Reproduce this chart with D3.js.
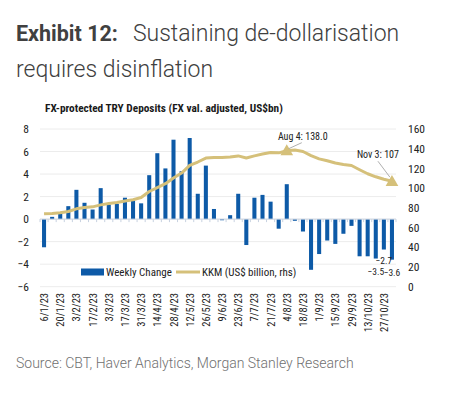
<!DOCTYPE html>
<html>
<head>
<meta charset="utf-8">
<script src="https://cdn.jsdelivr.net/npm/d3@7"></script>
<style>
  body { margin: 0; background: #fff; }
  svg text { font-family: "Roboto Condensed", "Liberation Sans Narrow", "Arial Narrow", "DejaVu Sans Condensed", Roboto, sans-serif; }
  .title { font-family: Roboto, sans-serif !important; fill: #404040; }
  .source { font-family: Roboto, sans-serif !important; fill: #707070; font-weight: 300; }
</style>
</head>
<body>
<div id="chart"></div>
<script>
// weekly dates, Fri 6 Jan 2023 .. Fri 3 Nov 2023
const weeks = d3.timeFriday.range(new Date(2023, 0, 6), new Date(2023, 10, 4));

// weekly change in FX-protected deposits (US$bn)
const weeklyChange = [
  -2.5, 0.2, 0.6, 1.15, 2.6, 1.45, 0.85, 2.75, 1.3, 1.35,
  1.9, 1.65, 1.4, 3.9, 5.85, 4.5, 7.05, 4.25, 7.2, 2.25,
  4.75, 0.9, -0.1, 0.35, 2.25, -2.3, 1.9, 2.15, 1.55, -0.85,
  3.1, -0.15, -1.1, -4.5, -3.1, -1.9, -2.2, -1.3, -0.6, -3.3,
  -3.3, -3.5, -2.7, -3.6
];

// KKM stock (US$ billion, rhs)
const kkm = [
  74.0, 74.3, 75.0, 76.3, 79.0, 80.4, 81.0, 83.0, 84.4, 85.4,
  86.9, 88.2, 90.5, 96.6, 100.5, 104.5, 110.2, 115.3, 123.0, 126.5,
  130.5, 131.2, 131.2, 131.5, 132.7, 130.6, 132.7, 134.6, 136.2, 135.8,
  138.0, 138.7, 137.2, 133.0, 129.7, 127.8, 125.5, 124.0, 123.0, 118.7,
  114.6, 111.5, 109.0, 107.0
];

const leftTicks = [-6, -4, -2, 0, 2, 4, 6, 8];
const rightTicks = [0, 20, 40, 60, 80, 100, 120, 140, 160];
const labelledBars = [41, 42, 43];
const callouts = [
  { i: 30, text: "Aug 4: 138.0" },
  { i: 43, text: "Nov 3: 107" }
];

const W = 472, H = 395;
const plot = { left: 40, right: 396, top: 129, bottom: 286.7 };
const blue = "#0d5aa7", gold = "#d5c07a";

const svg = d3.select("#chart").append("svg")
  .attr("width", W).attr("height", H);

// headline
const head = svg.append("text").attr("class", "title")
  .attr("x", 16).attr("y", 41);
head.append("tspan").attr("font-weight", 700).style("font-size", "21.5px").text("Exhibit 12:");
head.append("tspan").attr("font-weight", 300).style("font-size", "23px").attr("dx", 15).text("Sustaining de-dollarisation");
svg.append("text").attr("class", "title")
  .attr("x", 16).attr("y", 77).style("font-size", "23px").attr("font-weight", 300)
  .text("requires disinflation");

svg.append("text")
  .attr("x", 45).attr("y", 112)
  .attr("font-weight", 700).style("font-size", "11.3px").attr("fill", "#1a1a1a")
  .text("FX-protected TRY Deposits (FX val. adjusted, US$bn)");

const x = d3.scaleBand().domain(d3.range(weeks.length))
  .range([plot.left, plot.right]).paddingInner(0.5).paddingOuter(0.25);
const yL = d3.scaleLinear().domain([-6, 8]).range([plot.bottom, plot.top]);
const yR = d3.scaleLinear().domain([0, 160]).range([plot.bottom, plot.top]);

// gridlines
svg.append("g").selectAll("line").data(leftTicks).join("line")
  .attr("x1", plot.left).attr("x2", plot.right)
  .attr("y1", d => yL(d)).attr("y2", d => yL(d))
  .attr("stroke", "#ececec").attr("stroke-width", 1);

// left axis
const axL = svg.append("g").attr("transform", `translate(${plot.left - 8},0)`)
  .call(d3.axisLeft(yL).tickValues(leftTicks).tickSize(0).tickFormat(d3.format("d")));
axL.select(".domain").remove();
axL.selectAll("text").style("font-size", "11.5px").attr("fill", "#222");

// right axis
const axR = svg.append("g").attr("transform", `translate(${plot.right + 9},0)`)
  .call(d3.axisRight(yR).tickValues(rightTicks).tickSize(0));
axR.select(".domain").remove();
axR.selectAll("text").style("font-size", "11.5px").attr("fill", "#222");

// bars
svg.append("g").selectAll("rect").data(weeklyChange).join("rect")
  .attr("x", (d, i) => x(i))
  .attr("width", x.bandwidth())
  .attr("y", d => yL(Math.max(0, d)))
  .attr("height", d => Math.abs(yL(d) - yL(0)))
  .attr("fill", blue);

// zero axis with small category ticks
svg.append("line")
  .attr("x1", plot.left).attr("x2", plot.right)
  .attr("y1", yL(0)).attr("y2", yL(0))
  .attr("stroke", "#d0d8e4").attr("stroke-width", 1);
svg.append("g").selectAll("line").data(d3.range(weeks.length + 1)).join("line")
  .attr("x1", i => plot.left + i * x.step())
  .attr("x2", i => plot.left + i * x.step())
  .attr("y1", yL(0)).attr("y2", yL(0) + 3)
  .attr("stroke", "#c8d2e0").attr("stroke-width", 1);

// bar value labels for latest weeks
svg.append("g").selectAll("text").data(labelledBars).join("text")
  .attr("x", i => x(i) + x.bandwidth() / 2)
  .attr("y", i => yL(weeklyChange[i]) + (i === 42 ? 14 : 16))
  .attr("text-anchor", "middle").style("font-size", "9.5px").attr("fill", "#222")
  .text(i => d3.format(".1f")(weeklyChange[i]));

// KKM line
const line = d3.line()
  .x((d, i) => x(i) + x.bandwidth() / 2)
  .y(d => yR(d));
svg.append("path").datum(kkm)
  .attr("d", line).attr("fill", "none")
  .attr("stroke", gold).attr("stroke-width", 3).attr("stroke-linejoin", "round");

// callouts with triangles
const tri = d3.symbol().type(d3.symbolTriangle).size(70);
callouts.forEach(c => {
  const cx = x(c.i) + x.bandwidth() / 2, cy = yR(kkm[c.i]);
  svg.append("path").attr("d", tri).attr("fill", gold)
    .attr("transform", `translate(${cx},${cy + 1})`);
});
const a1 = callouts[0], a2 = callouts[1];
const p1 = [x(a1.i) + x.bandwidth() / 2, yR(kkm[a1.i])];
const p2 = [x(a2.i) + x.bandwidth() / 2, yR(kkm[a2.i])];
svg.append("line").attr("x1", p1[0] + 15).attr("y1", p1[1] - 8)
  .attr("x2", p1[0] + 2).attr("y2", p1[1] - 2).attr("stroke", "#999").attr("stroke-width", 0.8);
svg.append("text").attr("x", p1[0] + 16).attr("y", p1[1] - 11)
  .attr("text-anchor", "middle").style("font-size", "10px").attr("fill", "#222").text(a1.text);
svg.append("line").attr("x1", p2[0] - 14).attr("y1", p2[1] - 20)
  .attr("x2", p2[0] - 2).attr("y2", p2[1] - 4).attr("stroke", "#999").attr("stroke-width", 0.8);
svg.append("text").attr("x", p2[0] - 14).attr("y", p2[1] - 23)
  .attr("text-anchor", "middle").style("font-size", "10px").attr("fill", "#222").text(a2.text);

// x labels every second week
const fmt = d => `${d.getDate()}/${d.getMonth() + 1}/23`;
svg.append("g").selectAll("text").data(d3.range(0, weeks.length, 2)).join("text")
  .attr("transform", i => `translate(${x(i) + x.bandwidth() / 2 + 4},293) rotate(-90)`)
  .attr("text-anchor", "end").style("font-size", "10.5px").attr("fill", "#222")
  .text(i => fmt(weeks[i]));

// legend
const lg = svg.append("g").attr("transform", "translate(81,272)");
lg.append("rect").attr("x", 0).attr("y", -3.5).attr("width", 23).attr("height", 7).attr("fill", blue);
lg.append("text").attr("x", 25).attr("y", 4).style("font-size", "11px").attr("fill", "#222").text("Weekly Change");
lg.append("line").attr("x1", 95).attr("x2", 119).attr("y1", 0).attr("y2", 0)
  .attr("stroke", gold).attr("stroke-width", 3);
lg.append("text").attr("x", 121).attr("y", 4).style("font-size", "11px").attr("fill", "#222").text("KKM (US$ billion, rhs)");

svg.append("text").attr("class", "source")
  .attr("x", 16).attr("y", 368).style("font-size", "14px")
  .text("Source: CBT, Haver Analytics, Morgan Stanley Research");
</script>
</body>
</html>
